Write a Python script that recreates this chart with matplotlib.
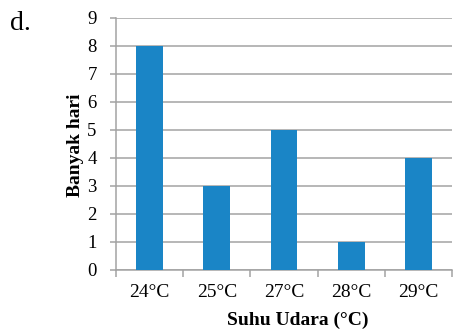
import numpy as np
import matplotlib.pyplot as plt

# data
suhu = ['24°C', '25°C', '27°C', '28°C', '29°C']
banyak_hari = [8, 3, 5, 1, 4]
y_ticks = list(range(0, 10))

plt.rcParams['font.family'] = ['Liberation Serif', 'DejaVu Serif']

fig = plt.figure(figsize=(4.57, 3.32), dpi=100)
ax = fig.add_axes([0.254, 0.187, 0.735, 0.759])

x = np.arange(len(suhu))
ax.bar(x, banyak_hari, width=0.4, color='#1a85c6', zorder=3)

ax.set_xlim(-0.5, len(suhu) - 0.5)
ax.set_ylim(0, 9)
ax.set_yticks(y_ticks)
ax.grid(axis='y', color='#a3a3a3', linewidth=1.1, zorder=0)

ax.set_xticks(x)
ax.set_xticklabels(suhu, fontsize=14)
ax.set_xticks(np.arange(-0.5, len(suhu)), minor=True)
ax.tick_params(axis='x', which='major', length=0, pad=10)
ax.tick_params(axis='x', which='minor', length=5, color='#a3a3a3', width=1.1)
ax.tick_params(axis='y', labelsize=13.5, length=4, color='#a3a3a3', width=1.1, pad=10)

for s in ['top', 'right']:
    ax.spines[s].set_visible(False)
for s in ['left', 'bottom']:
    ax.spines[s].set_color('#a3a3a3')
    ax.spines[s].set_linewidth(1.1)

ax.set_ylabel('Banyak hari', fontsize=14, fontweight='bold')
ax.yaxis.set_label_coords(-0.095, 0.495)
ax.set_xlabel('Suhu Udara (°C)', fontsize=14, fontweight='bold')
ax.xaxis.set_label_coords(0.54, -0.165)

fig.text(0.022, 0.93, 'd.', fontsize=20, ha='left', va='center')

fig.savefig('out.png', dpi=100)
